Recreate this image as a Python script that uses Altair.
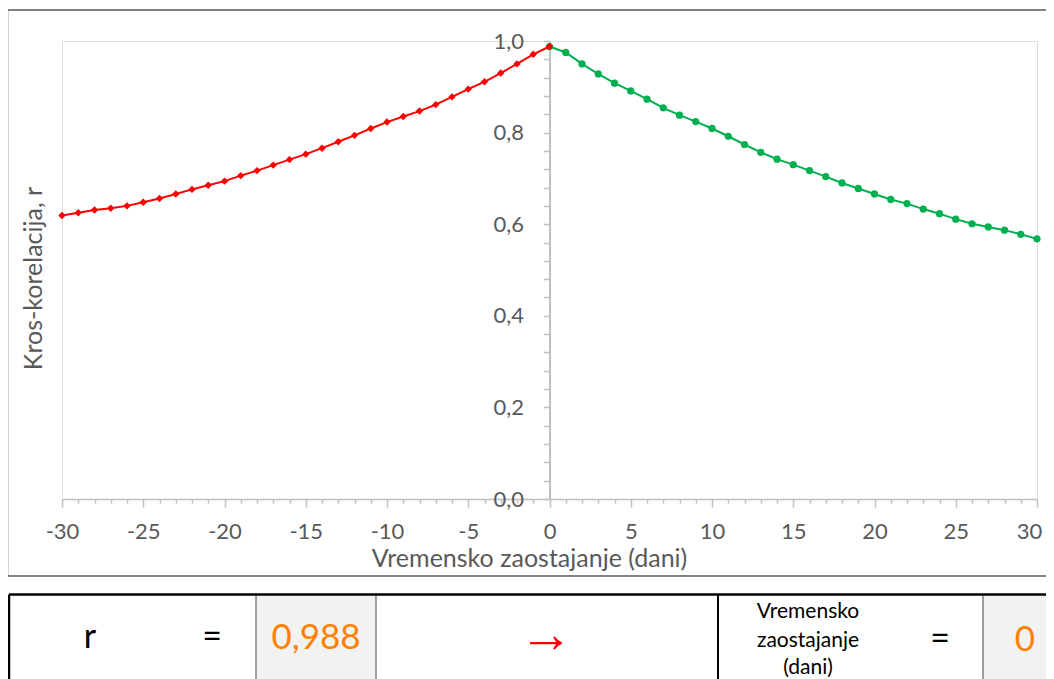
import altair as alt
import pandas as pd

# ---- data ----
lags_neg = list(range(-30, 1))
r_neg = [0.619, 0.625, 0.631, 0.635, 0.640, 0.648, 0.656, 0.666, 0.676, 0.685,
         0.694, 0.706, 0.717, 0.729, 0.741, 0.753, 0.766, 0.780, 0.794, 0.809,
         0.823, 0.835, 0.847, 0.861, 0.878, 0.895, 0.911, 0.930, 0.950, 0.971, 0.988]
lags_pos = list(range(0, 31))
r_pos = [0.988, 0.975, 0.950, 0.928, 0.908, 0.891, 0.873, 0.854, 0.838, 0.824,
         0.809, 0.792, 0.774, 0.757, 0.742, 0.730, 0.717, 0.704, 0.690, 0.678,
         0.666, 0.654, 0.645, 0.633, 0.623, 0.611, 0.601, 0.594, 0.587, 0.578, 0.568]

x_ticks = list(range(-30, 31))
y_ticks = [round(i * 0.04, 2) for i in range(26)]

best_r = 0.988
best_lag = 0
x_title = "Vremensko zaostajanje (dani)"
y_title = "Kros-korelacija, r"

FONT = "Lato"
GRAY = "#595959"

W, H = 975, 458

df_neg = pd.DataFrame({"lag": lags_neg, "r": r_neg})
df_pos = pd.DataFrame({"lag": lags_pos, "r": r_pos})

xscale = alt.Scale(domain=[-30, 30], nice=False, zero=False)
yscale = alt.Scale(domain=[0, 1], nice=False, zero=False)

x_axis = alt.Axis(
    values=x_ticks, tickCount=len(x_ticks), grid=False, title=x_title,
    labelExpr="datum.value % 5 === 0 ? '' + datum.value : ''",
    labelOverlap=False, labelFlush=False,
    labelOffset={"condition": {"test": "datum.value === 30", "value": -8}, "value": 0},
    labelFont=FONT, labelFontSize=22, labelColor=GRAY, labelPadding=14,
    tickColor="#bfbfbf", tickWidth=1.5,
    tickSize={"condition": {"test": "datum.value % 5 === 0", "value": 8}, "value": 4},
    domainColor="#bfbfbf", domainWidth=1.5,
    titleFont=FONT, titleFontSize=25, titleColor=GRAY, titleFontWeight="normal",
    titleX=467, titleY=67, titleBaseline="alphabetic", titleAlign="center",
)
y_axis = alt.Axis(
    values=y_ticks, tickCount=len(y_ticks), grid=False, title=y_title, offset=-487.5,
    labelExpr="round(datum.value * 100) % 20 === 0 ? replace(format(datum.value, '.1f'), '.', ',') : ''",
    labelOverlap=False, labelFlush=False,
    labelFont=FONT, labelFontSize=22, labelColor=GRAY, labelPadding=20,
    tickColor="#bfbfbf", tickWidth=1.5, tickSize=6,
    domainColor="#bfbfbf", domainWidth=2,
    titleFont=FONT, titleFontSize=25, titleColor=GRAY, titleFontWeight="normal",
    titleX=-516.5, titleY=237, titleBaseline="middle", titleAngle=-90,
)

green_line = alt.Chart(df_pos).mark_line(color="#00b050", strokeWidth=2).encode(
    x=alt.X("lag:Q", scale=xscale, axis=x_axis),
    y=alt.Y("r:Q", scale=yscale, axis=y_axis),
)
green_pts = alt.Chart(df_pos).mark_point(shape="circle", filled=True, size=52,
                                         color="#00b050", opacity=1).encode(
    x=alt.X("lag:Q", scale=xscale, axis=x_axis), y=alt.Y("r:Q", scale=yscale, axis=y_axis))
red_line = alt.Chart(df_neg).mark_line(color="#ff0000", strokeWidth=2).encode(
    x=alt.X("lag:Q", scale=xscale, axis=x_axis), y=alt.Y("r:Q", scale=yscale, axis=y_axis))
red_pts = alt.Chart(df_neg).mark_point(shape="diamond", filled=True, size=55,
                                       color="#ff0000", opacity=1).encode(
    x=alt.X("lag:Q", scale=xscale, axis=x_axis), y=alt.Y("r:Q", scale=yscale, axis=y_axis))

one = pd.DataFrame({"k": [0]})


def rule(x1, x2, y1, y2, color, w):
    return alt.Chart(one).mark_rule(color=color, strokeWidth=w).encode(
        x=alt.value(x1), x2=alt.value(x2), y=alt.value(y1), y2=alt.value(y2))


def rect(x1, x2, y1, y2, color):
    return alt.Chart(one).mark_rect(color=color).encode(
        x=alt.value(x1), x2=alt.value(x2), y=alt.value(y1), y2=alt.value(y2))


def txt(s, x, y, size, color, align="center", font=FONT):
    return alt.Chart(one).mark_text(text=s, font=font, fontSize=size, color=color,
                                    align=align, baseline="middle").encode(
        x=alt.value(x), y=alt.value(y))


OX, OY = 62, 41  # plot-area origin in page coordinates (relative offsets below)
RIGHT = 1046     # right edge of the drawing, page coordinates

layers = [
    green_line, green_pts, red_line, red_pts,
    # outer chart frame
    rule(7.5 - OX, RIGHT - OX, 10 - OY, 10 - OY, "#595959", 1.5),
    rule(7.5 - OX, 7.5 - OX, 10 - OY, 576 - OY, "#595959", 1.5),
    rule(7.5 - OX, RIGHT - OX, 576 - OY, 576 - OY, "#595959", 1.5),
    # table cells
    rect(256 - OX, 376 - OX, 595 - OY, 700 - OY, "#f2f2f2"),
    rect(983 - OX, RIGHT - OX, 595 - OY, 700 - OY, "#f2f2f2"),
    rule(256 - OX, 256 - OX, 595 - OY, 700 - OY, "#808080", 1.5),
    rule(376 - OX, 376 - OX, 595 - OY, 700 - OY, "#808080", 1.5),
    rule(983 - OX, 983 - OX, 595 - OY, 700 - OY, "#808080", 1.5),
    rule(718 - OX, 718 - OX, 595 - OY, 700 - OY, "#000000", 2),
    rule(9 - OX, 9 - OX, 594.5 - OY, 700 - OY, "#000000", 2.5),
    rule(9 - OX, RIGHT - OX, 594.5 - OY, 594.5 - OY, "#000000", 2.5),
    txt("r", 90 - OX, 638 - OY, 34, "#000000"),
    txt("=", 212 - OX, 638 - OY, 34, "#000000"),
    txt(f"{best_r:.3f}".replace(".", ","), 316 - OX, 638 - OY, 35, "#ff7f00"),
    txt("\u2192", 546 - OX, 636 - OY, 54, "#ff0000", font="Liberation Serif"),
    txt("Vremensko", 808 - OX, 612 - OY, 21, "#000000"),
    txt("zaostajanje", 808 - OX, 641 - OY, 21, "#000000"),
    txt("(dani)", 808 - OX, 668 - OY, 21, "#000000"),
    txt("=", 940 - OX, 640 - OY, 34, "#000000"),
    txt(str(best_lag), 1025 - OX, 640 - OY, 35, "#ff7f00"),
]

chart = alt.layer(*layers).properties(
    width=W, height=H,
    autosize=alt.AutoSizeParams(type="none"),
    padding={"left": 54, "top": 33, "right": 1038 - 54 - W, "bottom": 180},
).configure_view(stroke="#d9d9d9", strokeWidth=1.5).configure(background="white")

chart.save("out.html", embed_options={"renderer": "svg", "actions": False})
